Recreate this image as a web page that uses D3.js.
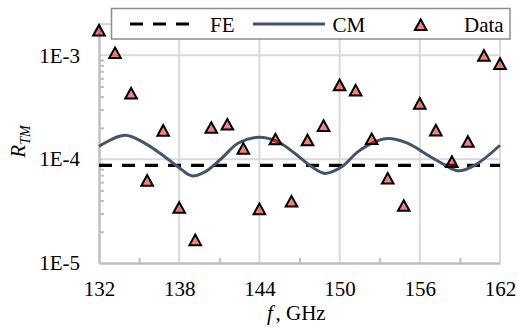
<!DOCTYPE html>
<html>
<head>
<meta charset="utf-8">
<script src="https://cdn.jsdelivr.net/npm/d3@7"></script>
<style>
  html, body { margin: 0; padding: 0; background: #fff; }
  svg { display: block; }
</style>
</head>
<body>
<svg id="chart" width="517" height="327"></svg>
<script>
// Measured transmission coefficient, 132–162 GHz
const dataFreq = [132.0, 133.2, 134.4, 135.6, 136.8, 138.0, 139.2, 140.4, 141.6, 142.8,
                  144.0, 145.2, 146.4, 147.6, 148.8, 150.0, 151.2, 152.4, 153.6, 154.8,
                  156.0, 157.2, 158.4, 159.6, 160.8, 162.0];
const dataVal = [1.73e-3, 1.05e-3, 4.28e-4, 6.2e-5, 1.88e-4, 3.4e-5, 1.66e-5, 2.0e-4, 2.15e-4, 1.26e-4,
                 3.3e-5, 1.55e-4, 3.9e-5, 1.52e-4, 2.09e-4, 5.15e-4, 4.58e-4, 1.56e-4, 6.5e-5, 3.55e-5,
                 3.42e-4, 1.89e-4, 9.4e-5, 1.47e-4, 9.9e-4, 8.25e-4];

// Circuit model (CM) curve
const cmFreq = [132.0, 133.95, 135.44, 136.94, 137.91, 138.94, 139.93, 141.18, 142.40, 143.90,
                145.39, 146.66, 147.93, 148.91, 150.16, 151.38, 152.65, 153.62, 155.12, 156.61,
                157.89, 158.86, 160.13, 162.0];
const cmVal = [1.33e-4, 1.70e-4, 1.42e-4, 1.05e-4, 8.43e-5, 6.91e-5, 7.55e-5, 1.02e-4, 1.42e-4, 1.62e-4,
               1.47e-4, 1.135e-4, 8.43e-5, 7.29e-5, 8.43e-5, 1.18e-4, 1.47e-4, 1.58e-4, 1.42e-4, 1.09e-4,
               8.76e-5, 7.72e-5, 8.76e-5, 1.36e-4];

// Full-wave (FE) level, flat across the band
const feFreq = [132, 162];
const feVal = [8.7e-5, 8.7e-5];

const xTicks = [132, 138, 144, 150, 156, 162];
const xMinorTicks = [135, 141, 147, 153, 159];
const yTicks = [1e-5, 1e-4, 1e-3];
const yTickLabels = ["1E-5", "1E-4", "1E-3"];
const yMinorTicks = [2e-5, 3e-5, 4e-5, 5e-5, 6e-5, 7e-5, 8e-5, 9e-5,
                     2e-4, 3e-4, 4e-4, 5e-4, 6e-4, 7e-4, 8e-4, 9e-4];
const legendLabels = ["FE", "CM", "Data"];

const svg = d3.select("#chart");
const plot = { left: 99, right: 500, top: 24, bottom: 263 };

const x = d3.scaleLinear().domain([132, 162]).range([plot.left, plot.right]);
const y = d3.scaleLog().domain([1e-5, 2e-3]).range([plot.bottom, plot.top]);

const serif = '"Liberation Serif", "Times New Roman", serif';
const gridColor = "#d9d9d9";
const axisColor = "#bfbfbf";
const cmColor = "#44546a";
const markerFill = "rgba(232, 0, 0, 0.5)";
const fontSize = 21;

// Gridlines
const grid = svg.append("g");
grid.selectAll("line.v").data(xTicks.slice(1)).join("line")
  .attr("x1", d => x(d)).attr("x2", d => x(d))
  .attr("y1", plot.top).attr("y2", plot.bottom)
  .attr("stroke", gridColor).attr("stroke-width", 2);
grid.selectAll("line.h").data([1e-4, 1e-3, 2e-3]).join("line")
  .attr("x1", plot.left).attr("x2", plot.right)
  .attr("y1", d => y(d)).attr("y2", d => y(d))
  .attr("stroke", gridColor).attr("stroke-width", 2);

// Axes
const yAxis = svg.append("g").attr("transform", `translate(${plot.left},0)`)
  .call(d3.axisLeft(y).tickValues(yTicks).tickFormat((d, i) => yTickLabels[i])
        .tickSize(0).tickPadding(19));
const yMinor = svg.append("g").attr("transform", `translate(${plot.left},0)`)
  .call(d3.axisLeft(y).tickValues(yMinorTicks).tickFormat("").tickSize(-5).tickSizeOuter(0));
const xAxis = svg.append("g").attr("transform", `translate(0,${plot.bottom})`)
  .call(d3.axisBottom(x).tickValues(xTicks).tickFormat(d3.format("d"))
        .tickSize(0).tickPadding(18));
const xMinor = svg.append("g").attr("transform", `translate(0,${plot.bottom})`)
  .call(d3.axisBottom(x).tickValues(xMinorTicks).tickFormat("").tickSize(-5).tickSizeOuter(0));

[yAxis, xAxis].forEach(g => {
  g.select(".domain").attr("stroke", axisColor).attr("stroke-width", 2.5);
  g.selectAll("text").attr("font-size", fontSize).style("font-family", serif).attr("fill", "#000");
});
[yMinor, xMinor].forEach(g => {
  g.select(".domain").remove();
  g.selectAll(".tick line").attr("stroke", axisColor).attr("stroke-width", 2);
});

// Axis titles
const yTitle = svg.append("text")
  .attr("transform", "translate(25,141.5) rotate(-90)")
  .attr("text-anchor", "middle")
  .attr("font-size", fontSize)
  .style("font-family", serif);
yTitle.append("tspan").attr("font-style", "italic").text("R");
yTitle.append("tspan").attr("font-style", "italic").attr("font-size", 14).attr("dy", 5).text("TM");

svg.append("text")
  .attr("x", 267).attr("y", 319.5)
  .attr("font-size", fontSize).attr("font-style", "italic")
  .style("font-family", serif)
  .text("f");
svg.append("text")
  .attr("x", 275.5).attr("y", 319.5)
  .attr("font-size", fontSize)
  .style("font-family", serif)
  .text(", GHz");

// FE line
const feLine = d3.line().x(d => x(d[0])).y(d => y(d[1]));
svg.append("path")
  .datum(d3.zip(feFreq, feVal))
  .attr("d", feLine)
  .attr("fill", "none").attr("stroke", "#000").attr("stroke-width", 3.2)
  .attr("stroke-dasharray", "13,10");

// CM curve
const cmLine = d3.line().x(d => x(d[0])).y(d => y(d[1])).curve(d3.curveCatmullRom.alpha(0.5));
svg.append("path")
  .datum(d3.zip(cmFreq, cmVal))
  .attr("d", cmLine)
  .attr("fill", "none").attr("stroke", cmColor).attr("stroke-width", 3);

// Data markers
const tri = "M0,-5.6L5.8,5L-5.8,5Z";
svg.append("g").selectAll("path").data(d3.zip(dataFreq, dataVal)).join("path")
  .attr("transform", d => `translate(${x(d[0])},${y(d[1])})`)
  .attr("d", tri)
  .attr("fill", markerFill).attr("stroke", "#000").attr("stroke-width", 2)
  .attr("stroke-linejoin", "miter");

// Legend
const lg = svg.append("g");
lg.append("rect").attr("x", 111.5).attr("y", 8.5).attr("width", 398.5).attr("height", 30.5)
  .attr("fill", "#fff").attr("stroke", "#8c8c8c").attr("stroke-width", 1.5);
lg.append("line").attr("x1", 130).attr("x2", 190).attr("y1", 24).attr("y2", 24)
  .attr("stroke", "#000").attr("stroke-width", 3.2).attr("stroke-dasharray", "13,10");
lg.append("line").attr("x1", 253).attr("x2", 325).attr("y1", 24).attr("y2", 24)
  .attr("stroke", cmColor).attr("stroke-width", 3);
lg.append("path").attr("transform", "translate(420.7,25)").attr("d", tri)
  .attr("fill", markerFill).attr("stroke", "#000").attr("stroke-width", 2);
const legendX = [210, 332.5, 464];
lg.selectAll("text.lbl").data(legendLabels).join("text")
  .attr("x", (d, i) => legendX[i]).attr("y", 32)
  .attr("font-size", fontSize)
  .style("font-family", serif)
  .text(d => d);
</script>
</body>
</html>
